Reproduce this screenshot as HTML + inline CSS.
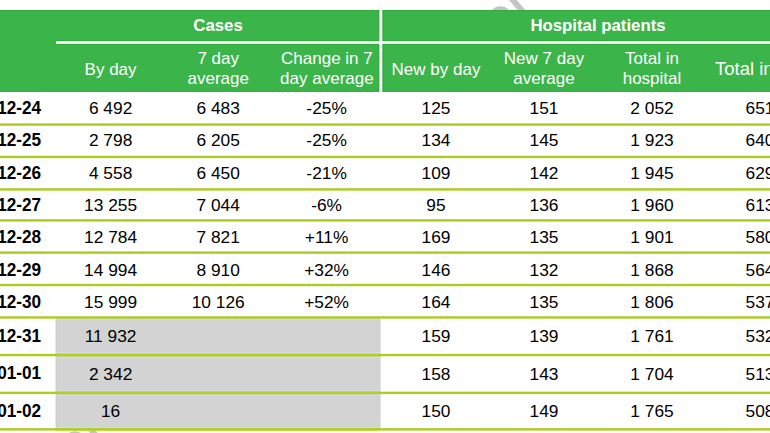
<!DOCTYPE html>
<html><head><meta charset="utf-8"><style>
html,body{margin:0;padding:0;background:#fff;}
body{width:770px;height:433px;position:relative;overflow:hidden;font-family:"Liberation Sans",sans-serif;}
.t{position:absolute;font-size:17.33px;line-height:19px;text-align:center;white-space:nowrap;}
</style></head><body>
<svg width="770" height="433" style="position:absolute;left:0;top:0"><ellipse cx="500.5" cy="17.5" rx="11.3" ry="11.3" fill="#c6c4c9"/><polygon points="508.15,-1 515.95,-1 526.15,11 518.35,11" fill="#c6c4c9"/><ellipse cx="74.9" cy="443.2" rx="11.9" ry="11.9" fill="#c6c4c9"/><polygon points="88.5,430.6 95.8,430.6 98.6,434 90.5,434" fill="#c6c4c9"/><rect x="0" y="10" width="770" height="81.8" fill="#3bb44a"/><rect x="0" y="10" width="770" height="1" fill="#2fae3e"/><rect x="0" y="90.8" width="770" height="1" fill="#2fae3e"/><rect x="55" y="40" width="715" height="1" fill="#2fae3e"/><rect x="55" y="44" width="715" height="1" fill="#2fae3e"/><rect x="378" y="10" width="1" height="82" fill="#2fae3e"/><rect x="383" y="10" width="1" height="82" fill="#2fae3e"/><rect x="56" y="41.2" width="714" height="2.6" fill="#fff"/><rect x="379.4" y="10" width="2.9" height="82" fill="#fff"/><rect x="55.5" y="317.45" width="325.1" height="37.6" fill="#d3d3d3"/><rect x="56" y="317.45" width="1" height="37.6" fill="#cdcdcd"/><rect x="379" y="317.45" width="1" height="37.6" fill="#cfcfcf"/><rect x="55.5" y="355.05" width="325.1" height="37.85" fill="#d3d3d3"/><rect x="56" y="355.05" width="1" height="37.85" fill="#cdcdcd"/><rect x="379" y="355.05" width="1" height="37.85" fill="#cfcfcf"/><rect x="55.5" y="392.9" width="325.1" height="36.45" fill="#d3d3d3"/><rect x="56" y="392.9" width="1" height="36.45" fill="#cdcdcd"/><rect x="379" y="392.9" width="1" height="36.45" fill="#cfcfcf"/><rect x="56" y="319" width="324" height="1" fill="#d9d8e4"/><rect x="56" y="352" width="324" height="1" fill="#d9d8e4"/><rect x="56" y="357" width="324" height="1" fill="#d9d8e4"/><rect x="56" y="390" width="324" height="1" fill="#d9d8e4"/><rect x="56" y="395" width="324" height="1" fill="#d9d8e4"/><rect x="56" y="427" width="324" height="1" fill="#d9d8e4"/><rect x="0" y="123.35" width="770" height="2.4" fill="#aacd20"/><rect x="0" y="155.75" width="770" height="2.4" fill="#aacd20"/><rect x="0" y="188.2" width="770" height="2.4" fill="#aacd20"/><rect x="0" y="219.2" width="770" height="2.4" fill="#aacd20"/><rect x="0" y="251.4" width="770" height="2.4" fill="#aacd20"/><rect x="0" y="283.8" width="770" height="2.4" fill="#aacd20"/><rect x="0" y="316.25" width="770" height="2.4" fill="#aacd20"/><rect x="0" y="353.85" width="770" height="2.4" fill="#aacd20"/><rect x="56" y="353.85" width="324" height="2.4" fill="#aed122"/><rect x="0" y="391.7" width="770" height="2.4" fill="#aacd20"/><rect x="56" y="391.7" width="324" height="2.4" fill="#aed122"/><rect x="0" y="428.15" width="770" height="2.4" fill="#aacd20"/><rect x="56" y="428.15" width="324" height="2.4" fill="#aed122"/></svg>
<div class="t" style="left:118.00px;top:16.13px;width:200px;font-weight:bold;font-size:16.8px;color:#fff">Cases</div>
<div class="t" style="left:498.00px;top:16.13px;width:200px;font-weight:bold;font-size:16.8px;color:#fff">Hospital patients</div>
<div class="t" style="left:45.60px;top:59.61px;width:130px;font-size:17.0px;color:#fff">By day</div>
<div class="t" style="left:153.20px;top:49.11px;width:130px;font-size:17.0px;color:#fff">7 day</div>
<div class="t" style="left:153.20px;top:68.71px;width:130px;font-size:17.0px;color:#fff">average</div>
<div class="t" style="left:261.90px;top:49.11px;width:130px;font-size:17.0px;color:#fff">Change in 7</div>
<div class="t" style="left:261.90px;top:68.71px;width:130px;font-size:17.0px;color:#fff">day average</div>
<div class="t" style="left:371.00px;top:59.61px;width:130px;font-size:17.0px;color:#fff">New by day</div>
<div class="t" style="left:479.00px;top:49.11px;width:130px;font-size:17.0px;color:#fff">New 7 day</div>
<div class="t" style="left:479.00px;top:68.71px;width:130px;font-size:17.0px;color:#fff">average</div>
<div class="t" style="left:587.00px;top:49.11px;width:130px;font-size:17.0px;color:#fff">Total in</div>
<div class="t" style="left:587.00px;top:68.71px;width:130px;font-size:17.0px;color:#fff">hospital</div>
<div class="t" style="left:715.0px;top:59.09px;text-align:left;font-size:18.5px;color:#fff">Total in ICU</div>
<div class="t" style="left:-100px;top:98.64px;width:141.2px;text-align:right;font-weight:bold;font-size:17.2px;transform:scaleY(1.025);transform-origin:50% 15.46px">2020-12-24</div>
<div class="t" style="left:45.60px;top:98.60px;width:130px;font-size:17.33px;color:#000">6 492</div>
<div class="t" style="left:153.20px;top:98.60px;width:130px;font-size:17.33px;color:#000">6 483</div>
<div class="t" style="left:261.60px;top:98.60px;width:130px;font-size:17.33px;color:#000">-25%</div>
<div class="t" style="left:371.00px;top:98.60px;width:130px;font-size:17.33px;color:#000">125</div>
<div class="t" style="left:479.00px;top:98.60px;width:130px;font-size:17.33px;color:#000">151</div>
<div class="t" style="left:587.00px;top:98.60px;width:130px;font-size:17.33px;color:#000">2 052</div>
<div class="t" style="left:695.00px;top:98.60px;width:130px;font-size:17.33px;color:#000">651</div>
<div class="t" style="left:-100px;top:131.14px;width:141.2px;text-align:right;font-weight:bold;font-size:17.2px;transform:scaleY(1.025);transform-origin:50% 15.46px">2020-12-25</div>
<div class="t" style="left:45.60px;top:131.10px;width:130px;font-size:17.33px;color:#000">2 798</div>
<div class="t" style="left:153.20px;top:131.10px;width:130px;font-size:17.33px;color:#000">6 205</div>
<div class="t" style="left:261.60px;top:131.10px;width:130px;font-size:17.33px;color:#000">-25%</div>
<div class="t" style="left:371.00px;top:131.10px;width:130px;font-size:17.33px;color:#000">134</div>
<div class="t" style="left:479.00px;top:131.10px;width:130px;font-size:17.33px;color:#000">145</div>
<div class="t" style="left:587.00px;top:131.10px;width:130px;font-size:17.33px;color:#000">1 923</div>
<div class="t" style="left:695.00px;top:131.10px;width:130px;font-size:17.33px;color:#000">640</div>
<div class="t" style="left:-100px;top:163.84px;width:141.2px;text-align:right;font-weight:bold;font-size:17.2px;transform:scaleY(1.025);transform-origin:50% 15.46px">2020-12-26</div>
<div class="t" style="left:45.60px;top:163.80px;width:130px;font-size:17.33px;color:#000">4 558</div>
<div class="t" style="left:153.20px;top:163.80px;width:130px;font-size:17.33px;color:#000">6 450</div>
<div class="t" style="left:261.60px;top:163.80px;width:130px;font-size:17.33px;color:#000">-21%</div>
<div class="t" style="left:371.00px;top:163.80px;width:130px;font-size:17.33px;color:#000">109</div>
<div class="t" style="left:479.00px;top:163.80px;width:130px;font-size:17.33px;color:#000">142</div>
<div class="t" style="left:587.00px;top:163.80px;width:130px;font-size:17.33px;color:#000">1 945</div>
<div class="t" style="left:695.00px;top:163.80px;width:130px;font-size:17.33px;color:#000">629</div>
<div class="t" style="left:-100px;top:196.24px;width:141.2px;text-align:right;font-weight:bold;font-size:17.2px;transform:scaleY(1.025);transform-origin:50% 15.46px">2020-12-27</div>
<div class="t" style="left:45.60px;top:196.20px;width:130px;font-size:17.33px;color:#000">13 255</div>
<div class="t" style="left:153.20px;top:196.20px;width:130px;font-size:17.33px;color:#000">7 044</div>
<div class="t" style="left:261.60px;top:196.20px;width:130px;font-size:17.33px;color:#000">-6%</div>
<div class="t" style="left:371.00px;top:196.20px;width:130px;font-size:17.33px;color:#000">95</div>
<div class="t" style="left:479.00px;top:196.20px;width:130px;font-size:17.33px;color:#000">136</div>
<div class="t" style="left:587.00px;top:196.20px;width:130px;font-size:17.33px;color:#000">1 960</div>
<div class="t" style="left:695.00px;top:196.20px;width:130px;font-size:17.33px;color:#000">613</div>
<div class="t" style="left:-100px;top:227.89px;width:141.2px;text-align:right;font-weight:bold;font-size:17.2px;transform:scaleY(1.025);transform-origin:50% 15.46px">2020-12-28</div>
<div class="t" style="left:45.60px;top:227.85px;width:130px;font-size:17.33px;color:#000">12 784</div>
<div class="t" style="left:153.20px;top:227.85px;width:130px;font-size:17.33px;color:#000">7 821</div>
<div class="t" style="left:261.60px;top:227.85px;width:130px;font-size:17.33px;color:#000">+11%</div>
<div class="t" style="left:371.00px;top:227.85px;width:130px;font-size:17.33px;color:#000">169</div>
<div class="t" style="left:479.00px;top:227.85px;width:130px;font-size:17.33px;color:#000">135</div>
<div class="t" style="left:587.00px;top:227.85px;width:130px;font-size:17.33px;color:#000">1 901</div>
<div class="t" style="left:695.00px;top:227.85px;width:130px;font-size:17.33px;color:#000">580</div>
<div class="t" style="left:-100px;top:261.14px;width:141.2px;text-align:right;font-weight:bold;font-size:17.2px;transform:scaleY(1.025);transform-origin:50% 15.46px">2020-12-29</div>
<div class="t" style="left:45.60px;top:261.10px;width:130px;font-size:17.33px;color:#000">14 994</div>
<div class="t" style="left:153.20px;top:261.10px;width:130px;font-size:17.33px;color:#000">8 910</div>
<div class="t" style="left:261.60px;top:261.10px;width:130px;font-size:17.33px;color:#000">+32%</div>
<div class="t" style="left:371.00px;top:261.10px;width:130px;font-size:17.33px;color:#000">146</div>
<div class="t" style="left:479.00px;top:261.10px;width:130px;font-size:17.33px;color:#000">132</div>
<div class="t" style="left:587.00px;top:261.10px;width:130px;font-size:17.33px;color:#000">1 868</div>
<div class="t" style="left:695.00px;top:261.10px;width:130px;font-size:17.33px;color:#000">564</div>
<div class="t" style="left:-100px;top:293.04px;width:141.2px;text-align:right;font-weight:bold;font-size:17.2px;transform:scaleY(1.025);transform-origin:50% 15.46px">2020-12-30</div>
<div class="t" style="left:45.60px;top:293.00px;width:130px;font-size:17.33px;color:#000">15 999</div>
<div class="t" style="left:153.20px;top:293.00px;width:130px;font-size:17.33px;color:#000">10 126</div>
<div class="t" style="left:261.60px;top:293.00px;width:130px;font-size:17.33px;color:#000">+52%</div>
<div class="t" style="left:371.00px;top:293.00px;width:130px;font-size:17.33px;color:#000">164</div>
<div class="t" style="left:479.00px;top:293.00px;width:130px;font-size:17.33px;color:#000">135</div>
<div class="t" style="left:587.00px;top:293.00px;width:130px;font-size:17.33px;color:#000">1 806</div>
<div class="t" style="left:695.00px;top:293.00px;width:130px;font-size:17.33px;color:#000">537</div>
<div class="t" style="left:-100px;top:326.94px;width:141.2px;text-align:right;font-weight:bold;font-size:17.2px;transform:scaleY(1.025);transform-origin:50% 15.46px">2020-12-31</div>
<div class="t" style="left:45.60px;top:326.90px;width:130px;font-size:17.33px;color:#000">11 932</div>
<div class="t" style="left:371.00px;top:326.90px;width:130px;font-size:17.33px;color:#000">159</div>
<div class="t" style="left:479.00px;top:326.90px;width:130px;font-size:17.33px;color:#000">139</div>
<div class="t" style="left:587.00px;top:326.90px;width:130px;font-size:17.33px;color:#000">1 761</div>
<div class="t" style="left:695.00px;top:326.90px;width:130px;font-size:17.33px;color:#000">532</div>
<div class="t" style="left:-100px;top:363.94px;width:141.2px;text-align:right;font-weight:bold;font-size:17.2px;transform:scaleY(1.025);transform-origin:50% 15.46px">2021-01-01</div>
<div class="t" style="left:45.60px;top:365.00px;width:130px;font-size:17.33px;color:#000">2 342</div>
<div class="t" style="left:371.00px;top:365.00px;width:130px;font-size:17.33px;color:#000">158</div>
<div class="t" style="left:479.00px;top:365.00px;width:130px;font-size:17.33px;color:#000">143</div>
<div class="t" style="left:587.00px;top:365.00px;width:130px;font-size:17.33px;color:#000">1 704</div>
<div class="t" style="left:695.00px;top:365.00px;width:130px;font-size:17.33px;color:#000">513</div>
<div class="t" style="left:-100px;top:401.64px;width:141.2px;text-align:right;font-weight:bold;font-size:17.2px;transform:scaleY(1.025);transform-origin:50% 15.46px">2021-01-02</div>
<div class="t" style="left:45.60px;top:401.60px;width:130px;font-size:17.33px;color:#000">16</div>
<div class="t" style="left:371.00px;top:401.60px;width:130px;font-size:17.33px;color:#000">150</div>
<div class="t" style="left:479.00px;top:401.60px;width:130px;font-size:17.33px;color:#000">149</div>
<div class="t" style="left:587.00px;top:401.60px;width:130px;font-size:17.33px;color:#000">1 765</div>
<div class="t" style="left:695.00px;top:401.60px;width:130px;font-size:17.33px;color:#000">508</div>
</body></html>
